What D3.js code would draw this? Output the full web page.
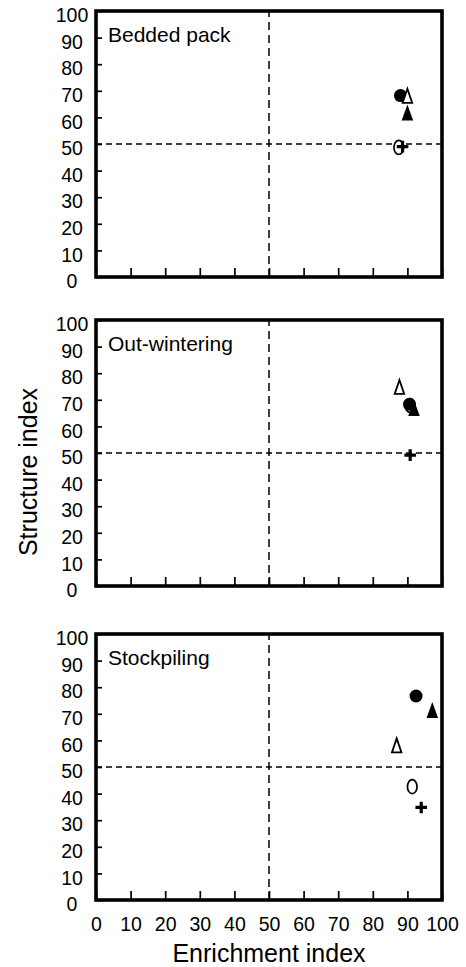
<!DOCTYPE html>
<html>
<head>
<meta charset="utf-8">
<script src="https://cdn.jsdelivr.net/npm/d3@7"></script>
<style>
    body { margin: 0; background: #fff; }
    text { font-family: "Liberation Sans", Arial, sans-serif; fill: #000; }
</style>
</head>
<body>
<script>
//Nematode faunal analysis - enrichment vs structure index, three manure systems

//panel names
var panels = ["Bedded pack", "Out-wintering", "Stockpiling"];

//axis ticks
var tickValues = [0, 10, 20, 30, 40, 50, 60, 70, 80, 90, 100];

//quadrant dividers
var dividerEI = 50, dividerSI = 50;

//series values, one entry per panel (enrichment index, structure index)
var openCircleEI = [87.5, 90.8, 91.4];
var openCircleSI = [48.7, 67.8, 42.6];

var filledCircleEI = [88.0, 90.6, 92.5];
var filledCircleSI = [68.2, 68.3, 76.7];

var openTriangleEI = [90.0, 87.7, 86.9];
var openTriangleSI = [67.6, 74.3, 57.6];

var filledTriangleEI = [90.0, 91.9, 97.2];
var filledTriangleSI = [61.2, 66.3, 70.8];

var plusEI = [88.6, 90.8, 94.0];
var plusSI = [49.0, 49.2, 34.8];

window.onload = function(){

    var w = 466, h = 967;
    var panelTop = [11, 320, 634];
    var panelH = 266;
    var left = 96, right = 442;

    var svg = d3.select("body")
        .append("svg")
        .attr("width", w)
        .attr("height", h);

    //shared x scale
    var x = d3.scaleLinear()
        .domain([0, 100])
        .range([left, right]);

    //custom marker shapes
    var tallTriangle = function(wd, ht){
        return {
            draw: function(ctx){
                ctx.moveTo(0, -ht * 0.6);
                ctx.lineTo(wd / 2, ht * 0.4);
                ctx.lineTo(-wd / 2, ht * 0.4);
                ctx.closePath();
            }
        };
    };
    var ellipse = function(rx, ry){
        return {
            draw: function(ctx){
                var k = 0.5523;
                ctx.moveTo(0, -ry);
                ctx.bezierCurveTo(rx * k, -ry, rx, -ry * k, rx, 0);
                ctx.bezierCurveTo(rx, ry * k, rx * k, ry, 0, ry);
                ctx.bezierCurveTo(-rx * k, ry, -rx, ry * k, -rx, 0);
                ctx.bezierCurveTo(-rx, -ry * k, -rx * k, -ry, 0, -ry);
                ctx.closePath();
            }
        };
    };
    var plusShape = function(s){
        return {
            draw: function(ctx){
                ctx.moveTo(-s, 0);
                ctx.lineTo(s, 0);
                ctx.moveTo(0, -s);
                ctx.lineTo(0, s);
            }
        };
    };

    //series in drawing order
    var series = [
        { ei: openCircleEI, si: openCircleSI, type: ellipse(4.8, 7), fill: "#fff", stroke: "#000", sw: 1.7 },
        { ei: filledCircleEI, si: filledCircleSI, type: d3.symbolCircle, size: Math.PI * 6.5 * 6.5, fill: "#000", stroke: "none", sw: 0 },
        { ei: openTriangleEI, si: openTriangleSI, type: tallTriangle(9.5, 14), fill: "#fff", stroke: "#000", sw: 1.8 },
        { ei: filledTriangleEI, si: filledTriangleSI, type: tallTriangle(11.5, 16), fill: "#000", stroke: "none", sw: 0 },
        { ei: plusEI, si: plusSI, type: plusShape(5.8), fill: "none", stroke: "#000", sw: 3.2 }
    ];

    panels.forEach(function(name, p){

        var g = svg.append("g")
            .attr("class", "panel")
            .attr("transform", "translate(0," + panelTop[p] + ")");

        var y = d3.scaleLinear()
            .domain([0, 100])
            .range([panelH, 0]);

        //y axis with inward ticks
        var yAxis = g.append("g")
            .attr("class", "y axis")
            .attr("transform", "translate(" + left + ",0)")
            .call(d3.axisLeft(y).tickValues(tickValues).tickSizeInner(-6).tickSizeOuter(0));
        yAxis.select(".domain").remove();
        yAxis.selectAll("line").attr("stroke", "#000").attr("stroke-width", 1.7);
        yAxis.selectAll("text")
            .attr("x", -24)
            .attr("y", 4.5)
            .attr("text-anchor", "middle")
            .style("font-size", "19.5px");

        //x axis with inward ticks
        var xAxis = g.append("g")
            .attr("class", "x axis")
            .attr("transform", "translate(0," + panelH + ")")
            .call(d3.axisBottom(x).tickValues(tickValues).tickSizeInner(-9).tickSizeOuter(0));
        xAxis.select(".domain").remove();
        xAxis.selectAll("line").attr("stroke", "#000").attr("stroke-width", 1.7);
        if (p < panels.length - 1) {
            xAxis.selectAll("text").remove();
        } else {
            xAxis.selectAll("text")
                .attr("y", 17)
                .style("font-size", "19.5px");
        }

        //dashed quadrant lines
        var line = d3.line()
            .x(function(d){ return x(d[0]); })
            .y(function(d){ return y(d[1]); });
        g.append("path")
            .attr("d", line([[dividerEI, 0], [dividerEI, 100]]))
            .attr("fill", "none")
            .attr("stroke", "#000")
            .attr("stroke-width", 1.5)
            .attr("stroke-dasharray", "8,5");
        g.append("path")
            .attr("d", line([[0, dividerSI], [100, dividerSI]]))
            .attr("fill", "none")
            .attr("stroke", "#000")
            .attr("stroke-width", 1.5)
            .attr("stroke-dasharray", "6,4");

        //frame
        g.append("rect")
            .attr("x", x(0))
            .attr("y", y(100))
            .attr("width", x(100) - x(0))
            .attr("height", y(0) - y(100))
            .attr("fill", "none")
            .attr("stroke", "#000")
            .attr("stroke-width", 3.6);

        //panel label
        g.append("text")
            .attr("x", 108)
            .attr("y", 31)
            .style("font-size", "21px")
            .text(name);

        //markers
        series.forEach(function(s){
            var sym = d3.symbol().type(s.type);
            if (s.size) sym.size(s.size);
            g.append("path")
                .attr("d", sym())
                .attr("transform", "translate(" + x(s.ei[p]) + "," + y(s.si[p]) + ")")
                .attr("fill", s.fill)
                .attr("stroke", s.stroke)
                .attr("stroke-width", s.sw);
        });
    });

    //axis titles
    svg.append("text")
        .attr("x", (left + right) / 2)
        .attr("y", 962)
        .attr("text-anchor", "middle")
        .style("font-size", "25px")
        .text("Enrichment index");

    svg.append("text")
        .attr("transform", "translate(37,472) rotate(-90)")
        .attr("text-anchor", "middle")
        .style("font-size", "25px")
        .text("Structure index");
};
</script>
</body>
</html>
